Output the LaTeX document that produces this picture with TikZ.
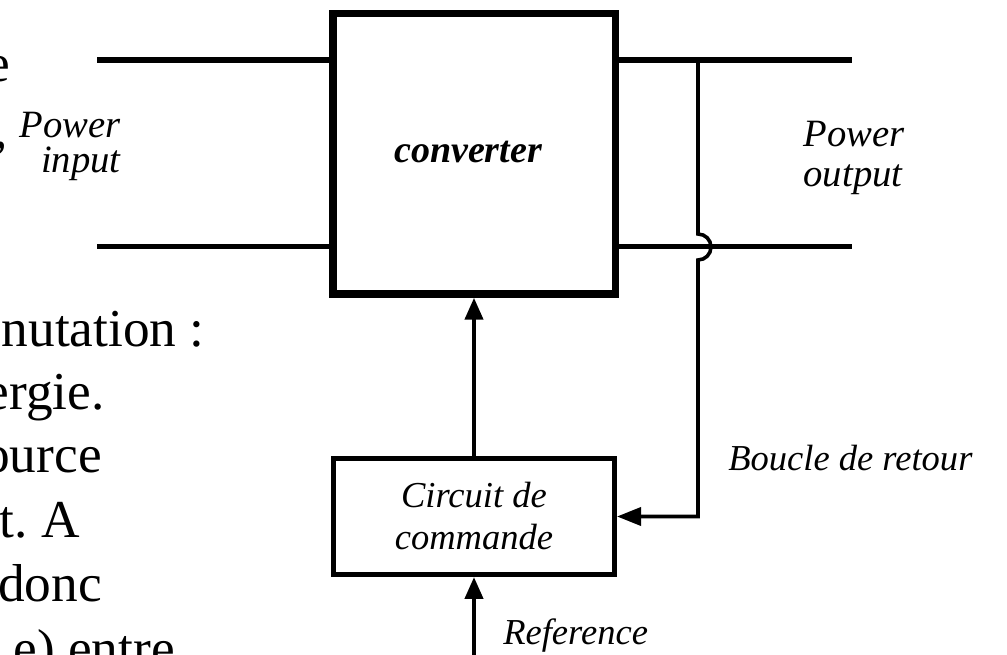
\documentclass[tikz,border=0pt]{standalone}
\usepackage{fontspec}
\setmainfont{Liberation Serif}
\usetikzlibrary{arrows.meta}
\begin{document}
\begin{tikzpicture}[x=0.75pt,y=-0.75pt,
  slidetext/.style={anchor=base east,inner sep=0pt,font=\fontsize{40}{48}\selectfont},
  lbl/.style={inner sep=0pt,font=\fontsize{27.4}{31.5}\selectfont\itshape},
  powerlbl/.style={inner sep=0pt,font=\fontsize{29}{31}\selectfont\itshape},
  convbox/.style={draw,line width=5.6pt,minimum width=211.9pt,minimum height=210.4pt,inner sep=0pt},
  convtext/.style={inner sep=0pt,font=\fontsize{28.5}{30}\selectfont\bfseries\itshape},
  ctrlbox/.style={draw,line width=3.75pt,minimum width=210.75pt,minimum height=87pt,inner sep=0pt,
    align=center,font=\fontsize{27.4}{31.5}\selectfont\itshape},
  powerline/.style={line width=3.9pt},
  sigline/.style={line width=3.2pt},
  fbline/.style={line width=2.7pt},
  bigtip/.style={-{Triangle[length=16.5pt,width=13.5pt]}},
  fbtip/.style={-{Triangle[length=18pt,width=13.5pt]}}
  ]
\useasboundingbox (0,0) rectangle (1007,655);
\clip (0,0) rectangle (1007,655);

% slide text fragments on the left
\node[slidetext] (t1) at (10,82) {e};
\node[slidetext] (t2) at (8,148) {,};
\node[slidetext] (t3) at (205,347) {nutation :};
\node[slidetext] (t4) at (105,410) {ergie.};
\node[slidetext] (t5) at (102,473) {ource};
\node[slidetext] (t6) at (80,538) {t.~A};
\node[slidetext] (t7) at (102,601) {donc};
\node[slidetext] (t8) at (175,666) {e) entre};

% blocks
\node[convbox] (conv) at (474.25,153.75) {};
\node[convtext] (convlbl) at (468,152) {converter};
\node[ctrlbox] (circ) at (474,516.5) {Circuit de\\commande};

% power lines
\coordinate (inA) at (97,60);
\coordinate (inB) at (97,246.7);
\coordinate (outA) at (852,60);
\coordinate (outB) at (852,246.7);
\draw[powerline] (inA) -- (inA -| conv.west);
\draw[powerline] (inB) -- (inB -| conv.west);
\draw[powerline] (outA -| conv.east) -- (outA);
\draw[powerline] (outB -| conv.east) -- (outB);

% control arrow
\draw[sigline,bigtip] (circ.north) -- (circ.north |- conv.south);

% reference arrow
\coordinate (refsrc) at (474,662);
\draw[sigline,bigtip] (refsrc) -- (circ.south);

% feedback loop with hop over the lower output line
\coordinate (fbtop) at (698,60);
\coordinate (hopa) at (698,234);
\coordinate (hopm) at (711,247);
\coordinate (hopb) at (698,260);
\coordinate (fbcorner) at (698,516.5);
\draw[fbline,fbtip] (fbtop) -- (hopa)
  .. controls (705.2,234) and (711,239.8) .. (hopm)
  .. controls (711,254.2) and (705.2,260) .. (hopb)
  -- (fbcorner) -- (circ.east);

% labels
\node[powerlbl,anchor=base east] (pin1) at (121,138) {Power};
\node[powerlbl,anchor=base east] (pin2) at (121,173) {input};
\node[powerlbl,anchor=base] (pout1) at (854,147) {Power};
\node[powerlbl,anchor=base] (pout2) at (853,187) {output};
\node[lbl,anchor=base west] (fblbl) at (728,471) {Boucle de retour};
\node[lbl,anchor=base west] (reflbl) at (503,644) {Reference};
\end{tikzpicture}
\end{document}
